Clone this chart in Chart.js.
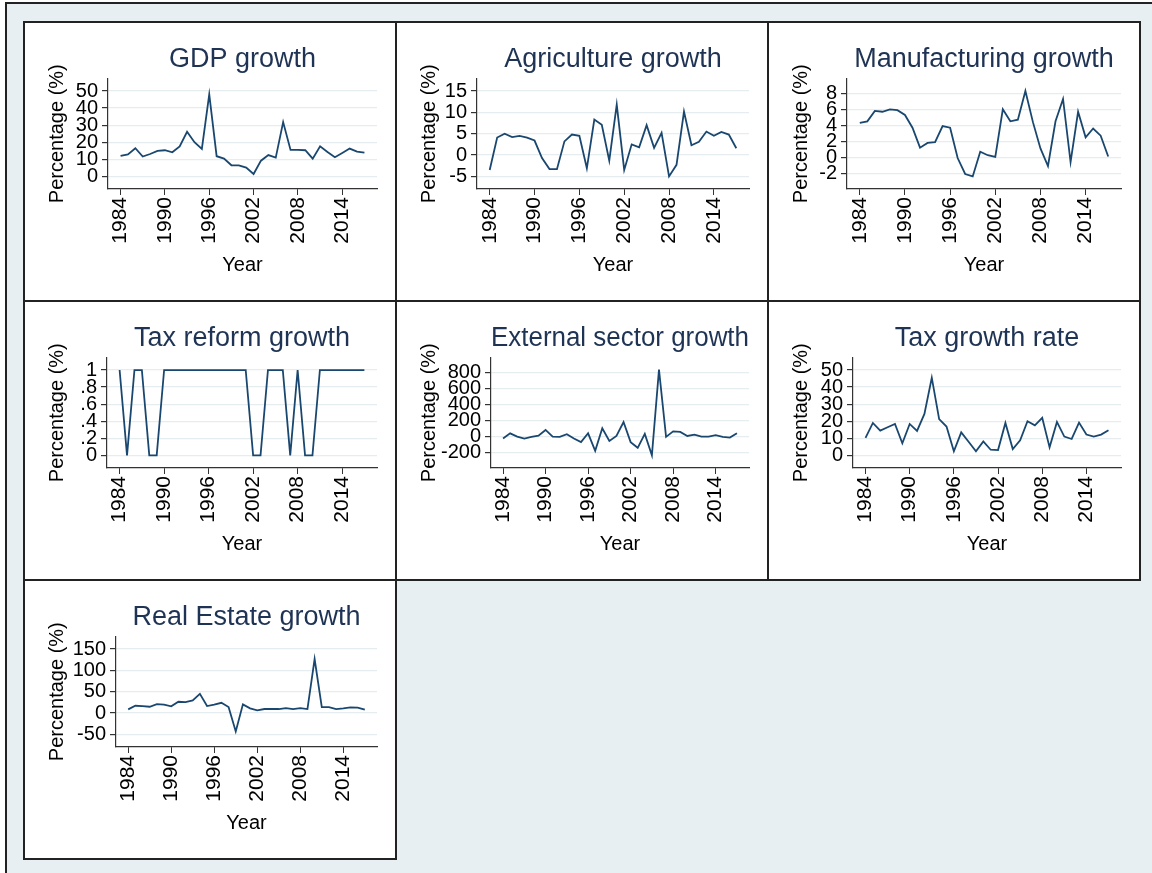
<!DOCTYPE html>
<html>
<head>
<meta charset="utf-8">
<title>Growth rates 1984-2017</title>
<script src="https://cdn.jsdelivr.net/npm/chart.js@4.4.1/dist/chart.umd.min.js"></script>
<style>
  body { margin: 0; width: 1152px; height: 873px; overflow: hidden; position: relative; background: #fff; }
  #frame { position: absolute; left: 5px; top: 2px; width: 1200px; height: 900px; background: #e8eff2; border-top: 2px solid #222; border-left: 2px solid #222; }
  .panel { position: absolute; width: 374px; height: 281px; box-sizing: border-box; border: 2px solid #222; background: #fff; }
  .panel canvas { position: absolute; left: 0; top: 0; }
</style>
</head>
<body>
<div id="frame"></div>
<div class="panel" style="left:23px;top:21px"><canvas id="gdp" width="370" height="277"></canvas></div>
<div class="panel" style="left:395px;top:21px"><canvas id="agri" width="370" height="277"></canvas></div>
<div class="panel" style="left:767px;top:21px"><canvas id="manuf" width="370" height="277"></canvas></div>
<div class="panel" style="left:23px;top:300px"><canvas id="taxref" width="370" height="277"></canvas></div>
<div class="panel" style="left:395px;top:300px"><canvas id="ext" width="370" height="277"></canvas></div>
<div class="panel" style="left:767px;top:300px"><canvas id="taxrate" width="370" height="277"></canvas></div>
<div class="panel" style="left:23px;top:579px"><canvas id="estate" width="370" height="277"></canvas></div>

<script>
const years = [1984, 1985, 1986, 1987, 1988, 1989, 1990, 1991, 1992, 1993, 1994, 1995,
  1996, 1997, 1998, 1999, 2000, 2001, 2002, 2003, 2004, 2005, 2006, 2007,
  2008, 2009, 2010, 2011, 2012, 2013, 2014, 2015, 2016, 2017];
const yearTicks = [1984, 1990, 1996, 2002, 2008, 2014];

const gdpGrowth = [12.0, 12.9, 16.5, 11.6, 13.1, 14.9, 15.3, 14.1, 17.6, 26.1, 20.0, 16.1,
  48.0, 11.8, 10.4, 6.5, 6.5, 5.1, 1.4, 9.2, 12.5, 11.0, 31.8, 15.5,
  15.5, 15.3, 10.4, 17.6, 14.3, 11.2, 13.7, 16.3, 14.5, 13.9];
const agricultureGrowth = [-3.5, 4.1, 5.0, 4.2, 4.5, 4.1, 3.4, -0.7, -3.3, -3.3, 3.2, 4.8,
  4.5, -3.1, 8.3, 7.1, -1.3, 11.8, -3.5, 2.5, 1.8, 7.0, 1.7, 5.2,
  -5.0, -2.3, 10.2, 2.3, 3.1, 5.5, 4.5, 5.4, 4.8, 1.6];
const manufacturingGrowth = [4.3, 4.5, 5.8, 5.7, 6.0, 5.9, 5.3, 3.7, 1.2, 1.8, 1.9, 3.9,
  3.7, -0.1, -2.1, -2.4, 0.7, 0.25, 0.05, 6.0, 4.5, 4.7, 8.3, 4.4,
  1.1, -1.1, 4.5, 7.3, -0.6, 5.7, 2.5, 3.6, 2.7, 0.1];
const taxReformGrowth = [1, 0, 1, 1, 0, 0, 1, 1, 1, 1, 1, 1,
  1, 1, 1, 1, 1, 1, 0, 0, 1, 1, 1, 0,
  1, 0, 0, 1, 1, 1, 1, 1, 1, 1];
const externalSectorGrowth = [-25, 41, 0, -25, -4, 12, 83, 0, -4, 29, -25, -70,
  41, -178, 104, -54, 8, 183, -70, -141, 33, -236, 842, -4,
  66, 58, 8, 25, 0, 0, 17, -4, -12, 41];
const taxGrowthRate = [10.2, 19.0, 14.5, 16.5, 18.4, 7.1, 18.4, 14.3, 24.3, 45.5, 21.2, 16.9,
  2.4, 13.5, 8.0, 2.4, 8.2, 3.3, 3.1, 19.0, 3.7, 8.8, 20.0, 17.6,
  22.0, 4.7, 19.6, 11.0, 9.6, 19.2, 12.2, 11.0, 12.2, 14.7];
const realEstateGrowth = [8.6, 17.0, 16.4, 14.8, 21.0, 19.5, 15.6, 26.5, 25.8, 29.7, 45.0, 16.4,
  19.5, 24.0, 14.0, -43.0, 20.3, 11.0, 6.3, 9.4, 9.4, 9.4, 11.7, 9.4,
  11.7, 9.4, 126.5, 14.0, 14.0, 9.4, 11.0, 13.3, 12.5, 7.8];

// y tick values and labels per panel
const gdpTicks = [0, 10, 20, 30, 40, 50];
const agriTicks = [-5, 0, 5, 10, 15];
const manufTicks = [-2, 0, 2, 4, 6, 8];
const taxRefTicks = [0, 0.2, 0.4, 0.6, 0.8, 1];
const taxRefTickLabels = ['0', '.2', '.4', '.6', '.8', '1'];
const extTicks = [-200, 0, 200, 400, 600, 800];
const taxRateTicks = [0, 10, 20, 30, 40, 50];
const estateTicks = [-50, 0, 50, 100, 150];

const FONT = '"Liberation Sans", Arial, sans-serif';
const LINE = '#1a476f';
const AXIS = '#333333';
const GRID = '#e5edf0';

function makePanel(id, titulo, valores, yMin, yMax, yTicks, yLabels, axisLeft) {
  const puntos = years.map((y, i) => ({ x: y, y: valores[i] }));
  return new Chart(document.getElementById(id), {
    type: 'line',
    data: {
      datasets: [{
        data: puntos,
        borderColor: LINE,
        borderWidth: 1.8,
        pointRadius: 0,
        tension: 0,
        fill: false
      }]
    },
    options: {
      responsive: false,
      animation: false,
      events: [],
      layout: { padding: { left: 0, right: 18, top: 0, bottom: 0 } },
      plugins: {
        legend: { display: false },
        tooltip: { enabled: false },
        title: {
          display: true,
          text: titulo,
          fullSize: false,
          color: '#1f3354',
          font: { family: FONT, size: 27, weight: 'normal' },
          padding: { top: 20, bottom: 3 }
        }
      },
      scales: {
        x: {
          type: 'linear',
          min: 1982.3,
          max: 2018.7,
          afterBuildTicks: s => { s.ticks = yearTicks.map(v => ({ value: v })); },
          afterFit: s => { s.height = 111; },
          ticks: {
            autoSkip: false,
            minRotation: 90,
            maxRotation: 90,
            padding: 2,
            color: '#000',
            font: { family: FONT, size: 21 },
            callback: v => String(v)
          },
          grid: { drawOnChartArea: false, drawTicks: true, tickLength: 6, tickColor: AXIS },
          border: { display: true, color: AXIS, width: 1.2 },
          title: {
            display: true,
            text: 'Year',
            color: '#000',
            font: { family: FONT, size: 20 },
            padding: { top: 0, bottom: 23 }
          }
        },
        y: {
          type: 'linear',
          min: yMin,
          max: yMax,
          afterBuildTicks: s => { s.ticks = yTicks.map(v => ({ value: v })); },
          afterFit: s => { s.width = axisLeft; },
          ticks: {
            autoSkip: false,
            padding: 4,
            color: '#000',
            font: { family: FONT, size: 20 },
            callback: (v) => {
              const k = yTicks.indexOf(v);
              return yLabels ? yLabels[k] : String(v);
            }
          },
          grid: { color: GRID, lineWidth: 1.2, drawTicks: true, tickLength: 6, tickColor: AXIS },
          border: { display: true, color: AXIS, width: 1.2 },
          title: {
            display: true,
            text: 'Percentage (%)',
            color: '#000',
            font: { family: FONT, size: 20 },
            padding: { top: 20, bottom: 0 }
          }
        }
      }
    }
  });
}

makePanel('gdp', 'GDP growth', gdpGrowth, -7.4, 57.4, gdpTicks, null, 83);
makePanel('agri', 'Agriculture growth', agricultureGrowth, -7.96, 17.96, agriTicks, null, 80);
makePanel('manuf', 'Manufacturing growth', manufacturingGrowth, -3.98, 9.88, manufTicks, null, 78);
makePanel('taxref', 'Tax reform growth', taxReformGrowth, -0.148, 1.148, taxRefTicks, taxRefTickLabels, 82);
makePanel('ext', 'External sector growth', externalSectorGrowth, -395, 995, extTicks, null, 94);
makePanel('taxrate', 'Tax growth rate', taxGrowthRate, -7.4, 57.4, taxRateTicks, null, 84);
makePanel('estate', 'Real Estate growth', realEstateGrowth, -79.6, 179.6, estateTicks, null, 91);
</script>
</body>
</html>
